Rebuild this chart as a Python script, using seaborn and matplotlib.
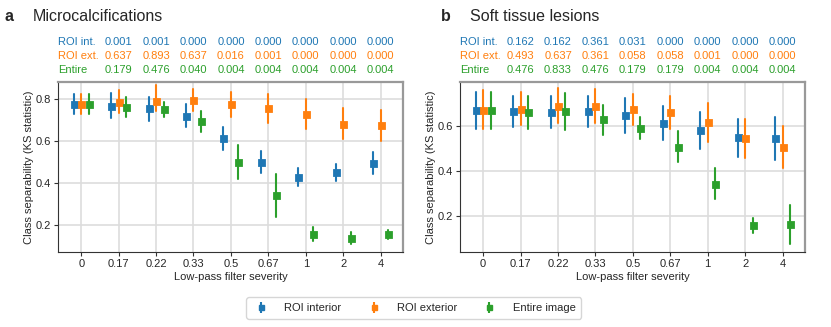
import numpy as np
import pandas as pd
import matplotlib.pyplot as plt
import seaborn as sns

severity = ["0", "0.17", "0.22", "0.33", "0.5", "0.67", "1", "2", "4"]
series = ["ROI interior", "ROI exterior", "Entire image"]
row_names = ["ROI int.", "ROI ext.", "Entire"]

# panel a: microcalcifications (KS statistic, lower / upper bound)
a_int_mid = [0.778, 0.768, 0.756, 0.721, 0.614, 0.502, 0.430, 0.454, 0.497]
a_int_lo = [0.731, 0.709, 0.698, 0.666, 0.559, 0.448, 0.387, 0.413, 0.443]
a_int_hi = [0.826, 0.829, 0.813, 0.775, 0.667, 0.552, 0.471, 0.492, 0.549]
a_ext_mid = [0.778, 0.787, 0.790, 0.797, 0.775, 0.756, 0.730, 0.684, 0.676]
a_ext_lo = [0.731, 0.733, 0.743, 0.743, 0.717, 0.689, 0.660, 0.613, 0.600]
a_ext_hi = [0.826, 0.844, 0.868, 0.850, 0.835, 0.826, 0.800, 0.756, 0.749]
a_ent_mid = [0.778, 0.762, 0.754, 0.697, 0.500, 0.343, 0.160, 0.141, 0.157]
a_ent_lo = [0.731, 0.714, 0.717, 0.644, 0.419, 0.241, 0.127, 0.111, 0.135]
a_ent_hi = [0.826, 0.810, 0.787, 0.746, 0.581, 0.444, 0.193, 0.168, 0.178]

# panel b: soft tissue lesions
b_int_mid = [0.670, 0.667, 0.662, 0.665, 0.649, 0.615, 0.582, 0.550, 0.547]
b_int_lo = [0.585, 0.597, 0.591, 0.594, 0.570, 0.538, 0.499, 0.464, 0.449]
b_int_hi = [0.751, 0.736, 0.733, 0.736, 0.727, 0.689, 0.662, 0.633, 0.641]
b_ext_mid = [0.670, 0.677, 0.689, 0.689, 0.674, 0.662, 0.618, 0.545, 0.505]
b_ext_lo = [0.585, 0.606, 0.612, 0.615, 0.606, 0.588, 0.529, 0.458, 0.413]
b_ext_hi = [0.760, 0.751, 0.768, 0.763, 0.742, 0.733, 0.704, 0.633, 0.600]
b_ent_mid = [0.670, 0.662, 0.665, 0.630, 0.593, 0.508, 0.342, 0.159, 0.163]
b_ent_lo = [0.585, 0.585, 0.582, 0.561, 0.541, 0.440, 0.274, 0.126, 0.076]
b_ent_hi = [0.751, 0.736, 0.745, 0.695, 0.641, 0.576, 0.413, 0.191, 0.247]

# p-values shown above each panel (for severities 0.17 .. 4)
a_p_int = ["0.001", "0.001", "0.000", "0.000", "0.000", "0.000", "0.000", "0.000"]
a_p_ext = ["0.637", "0.893", "0.637", "0.016", "0.001", "0.000", "0.000", "0.000"]
a_p_ent = ["0.179", "0.476", "0.040", "0.004", "0.004", "0.004", "0.004", "0.004"]
b_p_int = ["0.162", "0.162", "0.361", "0.031", "0.000", "0.000", "0.000", "0.000"]
b_p_ext = ["0.493", "0.637", "0.361", "0.058", "0.058", "0.001", "0.000", "0.000"]
b_p_ent = ["0.476", "0.833", "0.476", "0.179", "0.179", "0.004", "0.004", "0.004"]


def long_df(groups):
    # lo / mid / hi as three rows so median = point, min/max = error bar
    rows = []
    for name, (lo, mid, hi) in zip(series, groups):
        for i, s in enumerate(severity):
            for v in (lo[i], mid[i], hi[i]):
                rows.append({"severity": s, "kind": name, "ks": v})
    return pd.DataFrame(rows)


df_a = long_df([(a_int_lo, a_int_mid, a_int_hi),
                (a_ext_lo, a_ext_mid, a_ext_hi),
                (a_ent_lo, a_ent_mid, a_ent_hi)])
df_b = long_df([(b_int_lo, b_int_mid, b_int_hi),
                (b_ext_lo, b_ext_mid, b_ext_hi),
                (b_ent_lo, b_ent_mid, b_ent_hi)])

sns.set_theme(style="whitegrid")
plt.rcParams["font.family"] = ["Liberation Sans", "DejaVu Sans"]
colors = sns.color_palette("tab10", 3)

fig = plt.figure(figsize=(8.31, 3.27), dpi=100)
ax_a = fig.add_axes([0.0698, 0.2294, 0.4152, 0.5198])
ax_b = fig.add_axes([0.5535, 0.2294, 0.4152, 0.5198])

panels = [
    (ax_a, df_a, "a", "Microcalcifications", (0.073, 0.882), [0.2, 0.4, 0.6, 0.8],
     [a_p_int, a_p_ext, a_p_ent], 0.005),
    (ax_b, df_b, "b", "Soft tissue lesions", (0.04, 0.796), [0.2, 0.4, 0.6],
     [b_p_int, b_p_ext, b_p_ent], 0.531),
]

for ax, d, letter, title, ylim, yticks, prows, tx in panels:
    sns.pointplot(data=d, x="severity", y="ks", hue="kind", order=severity,
                  hue_order=series, palette=colors, estimator="median",
                  errorbar=lambda v: (v.min(), v.max()), dodge=0.4,
                  markers="s", linestyles="none", markersize=3.6,
                  err_kws={"linewidth": 1.5}, legend=False, ax=ax)
    ax.set_xlim(-0.62, 8.6)
    ax.set_ylim(*ylim)
    ax.set_yticks(yticks)
    ax.grid(True, axis="both", color="#dddddd", linewidth=1.2)
    ax.set_axisbelow(True)
    ax.set_xlabel("Low-pass filter severity", fontsize=8, labelpad=2)
    ax.set_ylabel("Class separability (KS statistic)", fontsize=8, labelpad=1)
    ax.tick_params(axis="both", labelsize=8, length=3, width=0.8, color="#333333",
                   pad=2, bottom=True, left=True)
    for side in ["left", "bottom"]:
        ax.spines[side].set_color("#333333")
        ax.spines[side].set_linewidth(0.8)
    for side in ["top", "right"]:
        ax.spines[side].set_color("#999999")
        ax.spines[side].set_linewidth(1.6)

    tr = ax.get_xaxis_transform()
    for j, (name, vals) in enumerate(zip(row_names, prows)):
        yy = 1.237 - 0.083 * j
        ax.text(-0.62, yy, name, transform=tr, ha="left", va="center",
                fontsize=8, color=colors[j])
        for k, v in enumerate(vals):
            ax.text(k + 1, yy, v, transform=tr, ha="center", va="center",
                    fontsize=8, color=colors[j])

    fig.text(tx, 0.935, letter, fontsize=11.5, fontweight="bold", va="baseline")
    fig.text(tx + 0.035, 0.935, title, fontsize=11.5, va="baseline")

# legend handles with error-bar style glyphs
handles = []
for c, name in zip(colors, series):
    h = ax_a.errorbar([np.nan], [np.nan], yerr=[[np.nan], [np.nan]], fmt="s",
                      color=c, markersize=3.6, elinewidth=1.5, label=name)
    handles.append(h)
fig.legend(handles=handles, labels=series, loc="center", bbox_to_anchor=(0.498, 0.058),
           ncol=3, fontsize=8, frameon=True, edgecolor="#cccccc", fancybox=True,
           handlelength=1.6, handletextpad=1.3, columnspacing=2.1, borderpad=0.5)

fig.savefig("out.png", dpi=100)
